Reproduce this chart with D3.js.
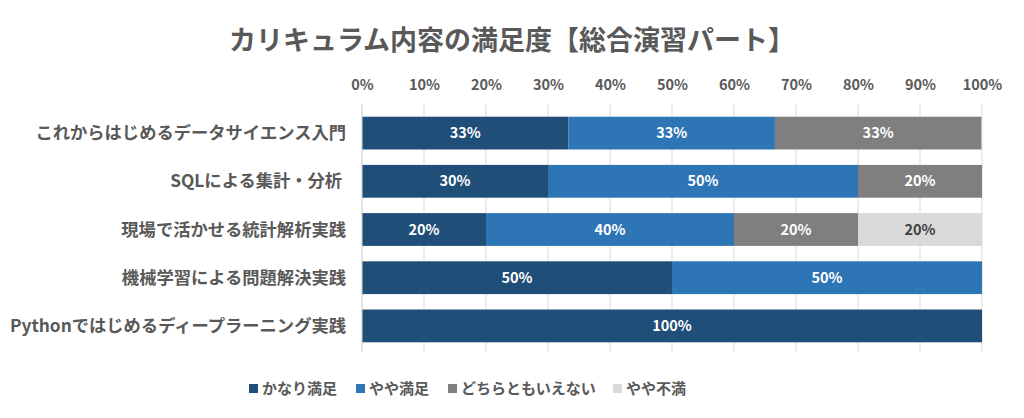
<!DOCTYPE html>
<html>
<head>
<meta charset="utf-8">
<script src="https://cdn.jsdelivr.net/npm/d3@7"></script>
<style>
  body { margin: 0; background: #fff; }
  text { font-family: "Noto Sans CJK JP", "Noto Sans", sans-serif; font-weight: bold; white-space: pre; }
</style>
</head>
<body>
<div id="chart"></div>
<script>
// data
var courses = [
  'これからはじめるデータサイエンス入門',
  'SQLによる集計・分析 ',
  '現場で活かせる統計解析実践',
  '機械学習による問題解決実践',
  'Pythonではじめるディープラーニング実践'
];
var answers = ['かなり満足', 'やや満足', 'どちらともいえない', 'やや不満'];
var veryGood = [33.3, 30, 20, 50, 100];
var good     = [33.3, 50, 40, 50, 0];
var neutral  = [33.3, 20, 20, 0, 0];
var bad      = [0, 0, 20, 0, 0];
var ticks = [0, 10, 20, 30, 40, 50, 60, 70, 80, 90, 100];

var colors = ['#1f4e79', '#2e75b6', '#7f7f7f', '#d9d9d9'];
var labelColors = ['#fff', '#fff', '#fff', '#404040'];

var width = 1024, height = 418;
var margin = {left: 362, right: 42, top: 109, bottom: 68};

var svg = d3.select('#chart').append('svg')
  .attr('width', width).attr('height', height);

var rows = courses.map(function(c, i) {
  return {course: c, 'かなり満足': veryGood[i], 'やや満足': good[i], 'どちらともいえない': neutral[i], 'やや不満': bad[i]};
});
var stacked = d3.stack().keys(answers)(rows);

var x = d3.scaleLinear().domain([0, 100]).range([margin.left, width - margin.right]);
var y = d3.scaleBand().domain(courses).range([margin.top, height - margin.bottom]).paddingInner(0.32).paddingOuter(0.16);

// title
svg.append('text')
  .attr('x', 512).attr('y', 50)
  .attr('text-anchor', 'middle')
  .attr('font-size', 27)
  .attr('fill', '#595959')
  .text('カリキュラム内容の満足度【総合演習パート】');

// grid
svg.append('g').selectAll('line').data(ticks).enter().append('line')
  .attr('x1', function(d){ return x(d); }).attr('x2', function(d){ return x(d); })
  .attr('y1', 104).attr('y2', 352)
  .attr('stroke', '#d9d9d9').attr('stroke-width', 1);

// top axis
var axis = svg.append('g')
  .attr('transform', 'translate(0,' + 93 + ')')
  .call(d3.axisTop(x).tickValues(ticks).tickFormat(function(d){ return d + '%'; }).tickSize(0));
axis.select('.domain').remove();
axis.selectAll('text')
  .attr('font-size', 14.5).attr('fill', '#595959')
  .style('font-family', '"Noto Sans CJK JP", sans-serif').style('font-weight', 'bold');

// bars
var layer = svg.append('g').selectAll('g').data(stacked).enter().append('g')
  .attr('fill', function(d, i){ return colors[i]; });

layer.selectAll('rect').data(function(d){ return d; }).enter().append('rect')
  .attr('x', function(d){ return x(d[0]); })
  .attr('width', function(d){ return x(d[1]) - x(d[0]); })
  .attr('y', function(d){ return y(d.data.course); })
  .attr('height', y.bandwidth());

layer.each(function(s, i) {
  d3.select(this).selectAll('text').data(s.filter(function(d){ return d[1] - d[0] > 0; }))
    .enter().append('text')
    .attr('x', function(d){ return (x(d[0]) + x(d[1])) / 2; })
    .attr('y', function(d){ return y(d.data.course) + y.bandwidth() / 2; })
    .attr('dy', '0.35em')
    .attr('text-anchor', 'middle')
    .attr('font-size', 14.5)
    .attr('fill', labelColors[i])
    .text(function(d){ return Math.round(d[1] - d[0]) + '%'; });
});

// left line
svg.append('line')
  .attr('x1', x(0)).attr('x2', x(0)).attr('y1', 104).attr('y2', 352)
  .attr('stroke', '#d9d9d9');

// category labels
svg.append('g').selectAll('text').data(courses).enter().append('text')
  .attr('x', 346)
  .attr('y', function(d){ return y(d) + y.bandwidth() / 2; })
  .attr('dy', '0.35em')
  .attr('text-anchor', 'end')
  .attr('font-size', 17.3)
  .attr('fill', '#595959')
  .text(function(d){ return d; });

// legend
var legendX = [249, 356, 448, 613];
var legend = svg.append('g').selectAll('g').data(answers).enter().append('g')
  .attr('transform', function(d, i){ return 'translate(' + legendX[i] + ',' + 389 + ')'; });
legend.append('rect')
  .attr('x', 0).attr('y', -5).attr('width', 9).attr('height', 9)
  .attr('fill', function(d, i){ return colors[i]; });
legend.append('text')
  .attr('x', 13).attr('dy', '0.35em')
  .attr('font-size', 15).attr('fill', '#595959')
  .text(function(d){ return d; });
</script>
</body>
</html>
